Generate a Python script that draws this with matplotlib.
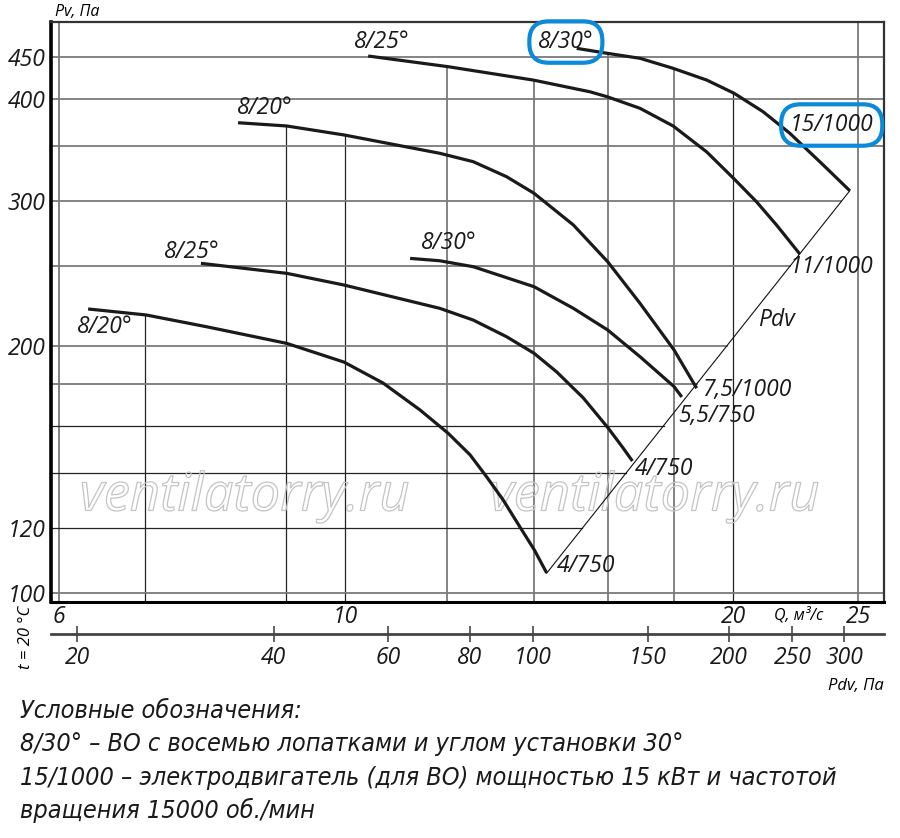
import numpy as np
import matplotlib.pyplot as plt
import matplotlib.patheffects as pe
from matplotlib.ticker import NullLocator
from matplotlib import font_manager

plt.rcParams['font.family'] = ['Open Sans', 'DejaVu Sans']
plt.rcParams['font.style'] = 'italic'

# fan curves, Q in m3/s, Pv in Pa
q_a = [6.32, 7.01, 7.81, 9.01, 9.98, 10.70, 11.43, 12.02, 12.50, 12.87, 13.26, 13.66, 14.02, 14.33]
p_a = [221.9, 218.2, 211.1, 201.5, 191.2, 180.3, 167.2, 156.6, 147.4, 138.7, 129.9, 120.5, 112.9, 105.9]

q_b = [7.73, 9.01, 9.98, 11.84, 12.57, 13.34, 14.01, 14.59, 15.30, 16.00, 16.43, 16.70]
p_b = [252.2, 245.2, 237.3, 222.3, 215.1, 205.3, 196.0, 186.0, 172.9, 158.8, 150.2, 144.9]

q_c = [11.23, 11.84, 12.57, 14.01, 15.03, 15.98, 16.93, 17.99, 18.24]
p_c = [255.7, 254.0, 249.8, 236.2, 222.3, 209.2, 194.1, 178.5, 173.4]

q_d = [8.26, 9.01, 9.98, 11.84, 12.57, 13.34, 14.01, 15.03, 15.98, 16.93, 17.99, 18.73]
p_d = [374.0, 370.6, 361.4, 343.3, 335.3, 321.5, 306.9, 280.8, 253.3, 225.4, 197.8, 177.7]

q_e = [10.42, 12.02, 13.99, 15.48, 15.97, 16.93, 17.96, 19.07, 20.03, 20.85, 21.60, 22.52]
p_e = [450.9, 437.6, 421.5, 407.9, 402.2, 389.4, 370.6, 344.6, 319.4, 299.5, 280.8, 258.8]

q_f = [15.12, 15.97, 16.93, 17.96, 19.07, 20.03, 21.09, 22.12, 23.48, 24.62]
p_f = [460.7, 454.3, 448.0, 435.6, 421.5, 406.1, 385.7, 363.1, 332.2, 309.1]

# dynamic pressure line
q_pdv = [14.33, 24.62]
p_pdv = [105.8, 309.1]

curves = [(q_a, p_a), (q_b, p_b), (q_c, p_c), (q_d, p_d), (q_e, p_e), (q_f, p_f)]

blade_labels = ['8/20°', '8/25°', '8/30°', '8/20°', '8/25°', '8/30°']
blade_pos = [(6.51, 211.0), (7.60, 260.3), (12.04, 267.3), (8.67, 390.3), (10.68, 468.9), (14.83, 468.9)]
motor_labels = ['4/750', '4/750', '5,5/750', '7,5/1000', '11/1000', '15/1000']
motor_pos = [(14.60, 108.0), (16.78, 141.7), (18.11, 164.4), (18.91, 176.8), (22.12, 249.6), (22.12, 371.6)]
boxed = [('8/30°', 5), ('15/1000', 5)]

grid_q = [6, 7, 9, 10, 12, 14, 16, 18, 20, 25]
grid_p = [100, 120, 140, 160, 180, 200, 250, 300, 350, 400, 450]
dark_q = [7, 9, 10, 20]
dark_p = [120, 140, 160]

q_ticks = [6, 10, 20, 25]
p_ticks = [100, 120, 200, 300, 400, 450]
pdv_ticks = [20, 40, 60, 80, 100, 150, 200, 250, 300]

notes = ['Условные обозначения:',
         '8/30° – ВО с восемью лопатками и углом установки 30°',
         '15/1000 – электродвигатель (для ВО) мощностью 15 кВт и частотой',
         'вращения 15000 об./мин']

xlim = (5.915, 26.17)
ylim = (97.6, 496)
fs = 16.5
blue = '#0a8ad8'
ink = '#1a1a1a'

# a narrow face for the legend text, if one is installed
faces = font_manager.fontManager.ttflist
names = {f.name for f in faces}
if 'Liberation Sans Narrow' in names:
    note_kw = dict(family=['Liberation Sans Narrow', 'DejaVu Sans'])
elif any(f.name == 'DejaVu Sans' and f.stretch == 'condensed' for f in faces):
    note_kw = dict(family=['DejaVu Sans'], stretch='condensed')
else:
    note_kw = dict(family=['Roboto', 'DejaVu Sans'])

fig = plt.figure(figsize=(9, 8.38), dpi=100)
ax = fig.add_axes([51/900, 1-602/838, 833/900, 580/838])
ax.set_xscale('log')
ax.set_yscale('log')

# grid lines, clipped under the curves and the Pdv line
for q in grid_q:
    tops = [np.exp(np.interp(np.log(q), np.log(cq), np.log(cp)))
            for cq, cp in curves if cq[0] <= q <= cq[-1]]
    top = max(tops) if tops else ylim[1]
    dark = q in dark_q
    ax.plot([q, q], [ylim[0], top], color='#222222' if dark else '#7a7a7a',
            lw=0.9 if dark else 1.3, zorder=1)
for p in grid_p:
    if p_pdv[0] <= p <= p_pdv[1]:
        right = np.exp(np.interp(np.log(p), np.log(p_pdv), np.log(q_pdv)))
    else:
        right = xlim[1]
    dark = p in dark_p
    ax.plot([xlim[0], right], [p, p], color='#222222' if dark else '#7a7a7a',
            lw=0.9 if dark else 1.3, zorder=1)

# watermark
wm = []
for wq in [8.36, 17.38]:
    wm.append(ax.text(wq, 131, 'ventilatorry.ru', fontsize=34, color='none', ha='center',
                      va='center', path_effects=[pe.Stroke(linewidth=0.9, foreground='#c4c4c4')],
                      zorder=2))

ax.plot(q_pdv, p_pdv, color='#111111', lw=0.8, zorder=3)
for cq, cp in curves:
    ax.plot(cq, cp, color=ink, lw=2.3, solid_capstyle='butt', solid_joinstyle='round', zorder=4)

box = dict(boxstyle='round,pad=0.38,rounding_size=0.85', fc='none', ec=blue, lw=3)
for i, (lab, (x, y)) in enumerate(zip(blade_labels, blade_pos)):
    kw = {'bbox': box} if i == 5 else {}
    ax.text(x, y, lab, fontsize=fs, ha='center', va='center', color=ink, zorder=5, **kw)
for i, (lab, (x, y)) in enumerate(zip(motor_labels, motor_pos)):
    kw = {'bbox': box} if i == 5 else {}
    ax.text(x, y, lab, fontsize=fs, ha='left', va='center', color=ink, zorder=5, **kw)
ax.text(21.6, 215.1, 'Pdv', fontsize=fs, ha='center', va='center', color=ink)

ax.set_xlim(*xlim)
ax.set_ylim(*ylim)
ax.set_xticks(q_ticks)
ax.set_xticklabels([str(v) for v in q_ticks])
ax.set_yticks(p_ticks)
ax.set_yticklabels([str(v) for v in p_ticks])
ax.xaxis.set_minor_locator(NullLocator())
ax.yaxis.set_minor_locator(NullLocator())
ax.tick_params(axis='both', length=0, labelsize=fs, colors=ink)
ax.tick_params(axis='x', pad=2)
ax.tick_params(axis='y', pad=4)

ax.spines['left'].set_linewidth(2.6)
ax.spines['bottom'].set_linewidth(2.2)
for s in ['top', 'right']:
    ax.spines[s].set_linewidth(1.6)
    ax.spines[s].set_color('#333333')

# second scale: dynamic pressure
ax2 = fig.add_axes([51/900, 1-634/838, 833/900, 0.0001])
ax2.set_xscale('log')
ax2.set_xlim(18.23, 345.5)
ax2.patch.set_visible(False)
for s in ['top', 'left', 'right']:
    ax2.spines[s].set_visible(False)
ax2.spines['bottom'].set_linewidth(2.0)
ax2.spines['bottom'].set_color('#444444')
ax2.set_yticks([])
ax2.set_xticks(pdv_ticks)
ax2.set_xticklabels([str(v) for v in pdv_ticks])
ax2.xaxis.set_minor_locator(NullLocator())
ax2.tick_params(axis='x', direction='inout', length=11, width=1.3, color='#555555',
                labelsize=fs, pad=3, labelcolor=ink)

fig.text(77/900, 1-12/838, 'Pv, Па', fontsize=11.5, ha='center', va='center')
fig.text(799/900, 1-615/838, 'Q, м³/с', fontsize=11.5, ha='center', va='center')
fig.text(884/900, 1-686/838, 'Pdv, Па', fontsize=12, ha='right', va='center')
fig.text(26/900, 1-637/838, 't = 20 °C', fontsize=12, rotation=90, ha='center', va='center')

note_txt = []
for i, line in enumerate(notes):
    note_txt.append(fig.text(20/900, 1-(711+33.3*i)/838, line, fontsize=18, ha='left',
                             va='center', color=ink, **note_kw))

# fit the legend lines and the watermark to the widths in the drawing
fig.canvas.draw()
r = fig.canvas.get_renderer()
k = 818 / note_txt[2].get_window_extent(r).width
for t in note_txt:
    t.set_fontsize(18 * k)
kw_ = 330 / wm[0].get_window_extent(r).width
for t in wm:
    t.set_fontsize(34 * kw_)

fig.savefig('out.png', dpi=100)
